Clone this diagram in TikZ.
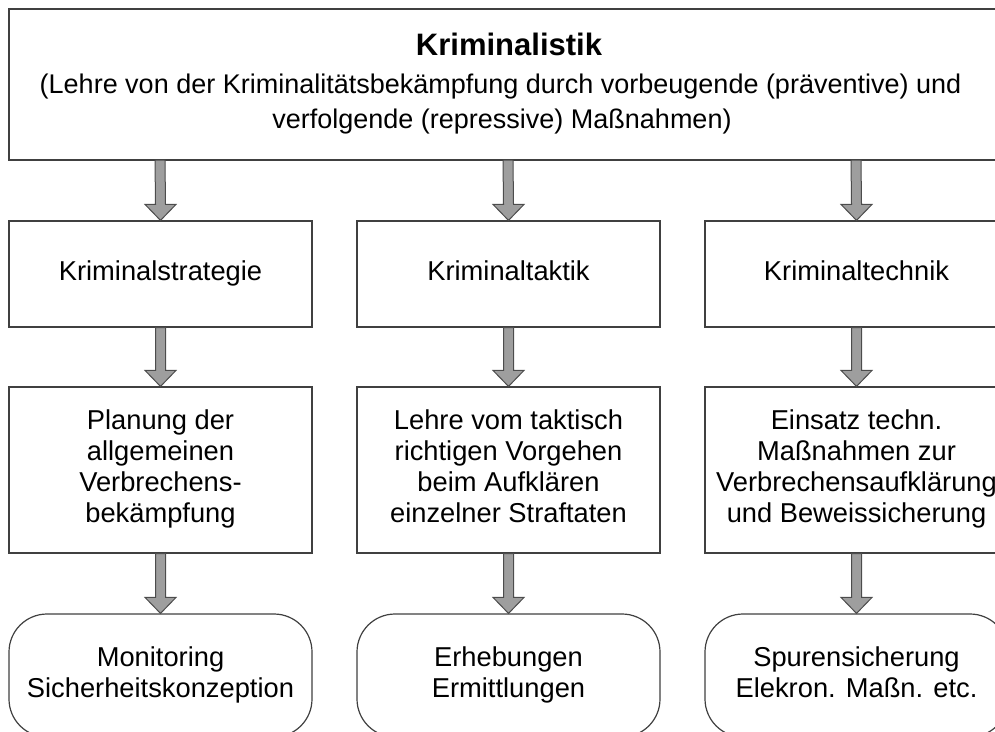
\documentclass[tikz,border=0pt]{standalone}
\usepackage{fontspec}
\setmainfont{Liberation Sans}
\usetikzlibrary{calc}
\tikzset{
  x=1pt, y=-1pt,
  boxline/.style={draw=black!75, line width=1.2pt, fill=white},
  sqbox/.style={boxline, rectangle, minimum width=303pt, inner sep=0pt, align=center,
    font=\fontsize{27.3}{31}\selectfont},
  rbox/.style={sqbox, rounded corners=38pt},
  blockarrow/.style={draw=black!70, line width=1pt, fill=black!38, line join=miter},
  subtext/.style={inner sep=0pt, anchor=base, font=\fontsize{27}{35}\selectfont},
}
\newcommand\blkarrow[2]{%
  \draw[blockarrow] ($(#1.south)+(-5,0)$) -- ($(#2.north)+(-5,-16)$) -- ++(-10.5,0)
    -- (#2.north) -- ($(#2.north)+(15.5,-16)$) -- ++(-10.5,0) -- ($(#1.south)+(5,0)$) -- cycle;}
\begin{document}
\begin{tikzpicture}
\useasboundingbox (0,0) rectangle (995,731);
\clip (0,0) rectangle (995,731);
% top box
\node[boxline, rectangle, minimum width=998pt, minimum height=151pt, inner sep=0pt] (top) at (508,84.5) {};
\node[inner sep=0pt, anchor=base] (title) at (509,55)
  {\fontsize{31}{36}\selectfont\bfseries Kriminalistik};
\node[subtext] (sub1) at (500.5,93)
  {(Lehre von der Kriminalitätsbekämpfung durch vorbeugende (präventive) und};
\node[subtext] (sub2) at (502,128) {verfolgende (repressive) Maßnahmen)};
% row 2
\node[sqbox, minimum height=106pt] (s1) at (160.5,274) {\strut Kriminalstrategie};
\node[sqbox, minimum height=106pt] (t1) at (508.5,274) {\strut Kriminaltaktik};
\node[sqbox, minimum height=106pt] (k1) at (856.5,274) {\strut Kriminaltechnik};
% row 3
\node[sqbox, minimum height=166pt] (s2) at (160.5,470) {\strut Planung der\\\strut allgemeinen\\\strut Verbrechens-\\\strut bekämpfung};
\node[sqbox, minimum height=166pt] (t2) at (508.5,470) {\strut Lehre vom taktisch\\\strut richtigen Vorgehen\\\strut beim Aufklären\\\strut einzelner Straftaten};
\node[sqbox, minimum height=166pt] (k2) at (856.5,470) {\strut Einsatz techn.\\\strut Maßnahmen zur\\\strut Verbrechensaufklärung\\\strut und Beweissicherung};
% row 4
\node[rbox, minimum height=123pt] (s3) at (160.5,675.5) {\strut Monitoring\\\strut Sicherheitskonzeption};
\node[rbox, minimum height=123pt] (t3) at (508.5,675.5) {\strut Erhebungen\\\strut Ermittlungen};
\node[rbox, minimum height=123pt] (k3) at (856.5,675.5) {\strut Spurensicherung\\\strut Elekron. Maßn. etc.};
% arrows
\coordinate (tl) at (160,160);
\coordinate (tm) at (508,160);
\coordinate (tr) at (856,160);
\draw[blockarrow] ($(tl)+(-5,0)$) -- ($(s1.north)+(-5,-16)$) -- ++(-10.5,0) -- (s1.north) -- ($(s1.north)+(15.5,-16)$) -- ++(-10.5,0) -- ($(tl)+(5,0)$) -- cycle;
\draw[blockarrow] ($(tm)+(-5,0)$) -- ($(t1.north)+(-5,-16)$) -- ++(-10.5,0) -- (t1.north) -- ($(t1.north)+(15.5,-16)$) -- ++(-10.5,0) -- ($(tm)+(5,0)$) -- cycle;
\draw[blockarrow] ($(tr)+(-5,0)$) -- ($(k1.north)+(-5,-16)$) -- ++(-10.5,0) -- (k1.north) -- ($(k1.north)+(15.5,-16)$) -- ++(-10.5,0) -- ($(tr)+(5,0)$) -- cycle;
\blkarrow{s1}{s2}
\blkarrow{t1}{t2}
\blkarrow{k1}{k2}
\blkarrow{s2}{s3}
\blkarrow{t2}{t3}
\blkarrow{k2}{k3}
\end{tikzpicture}
\end{document}
